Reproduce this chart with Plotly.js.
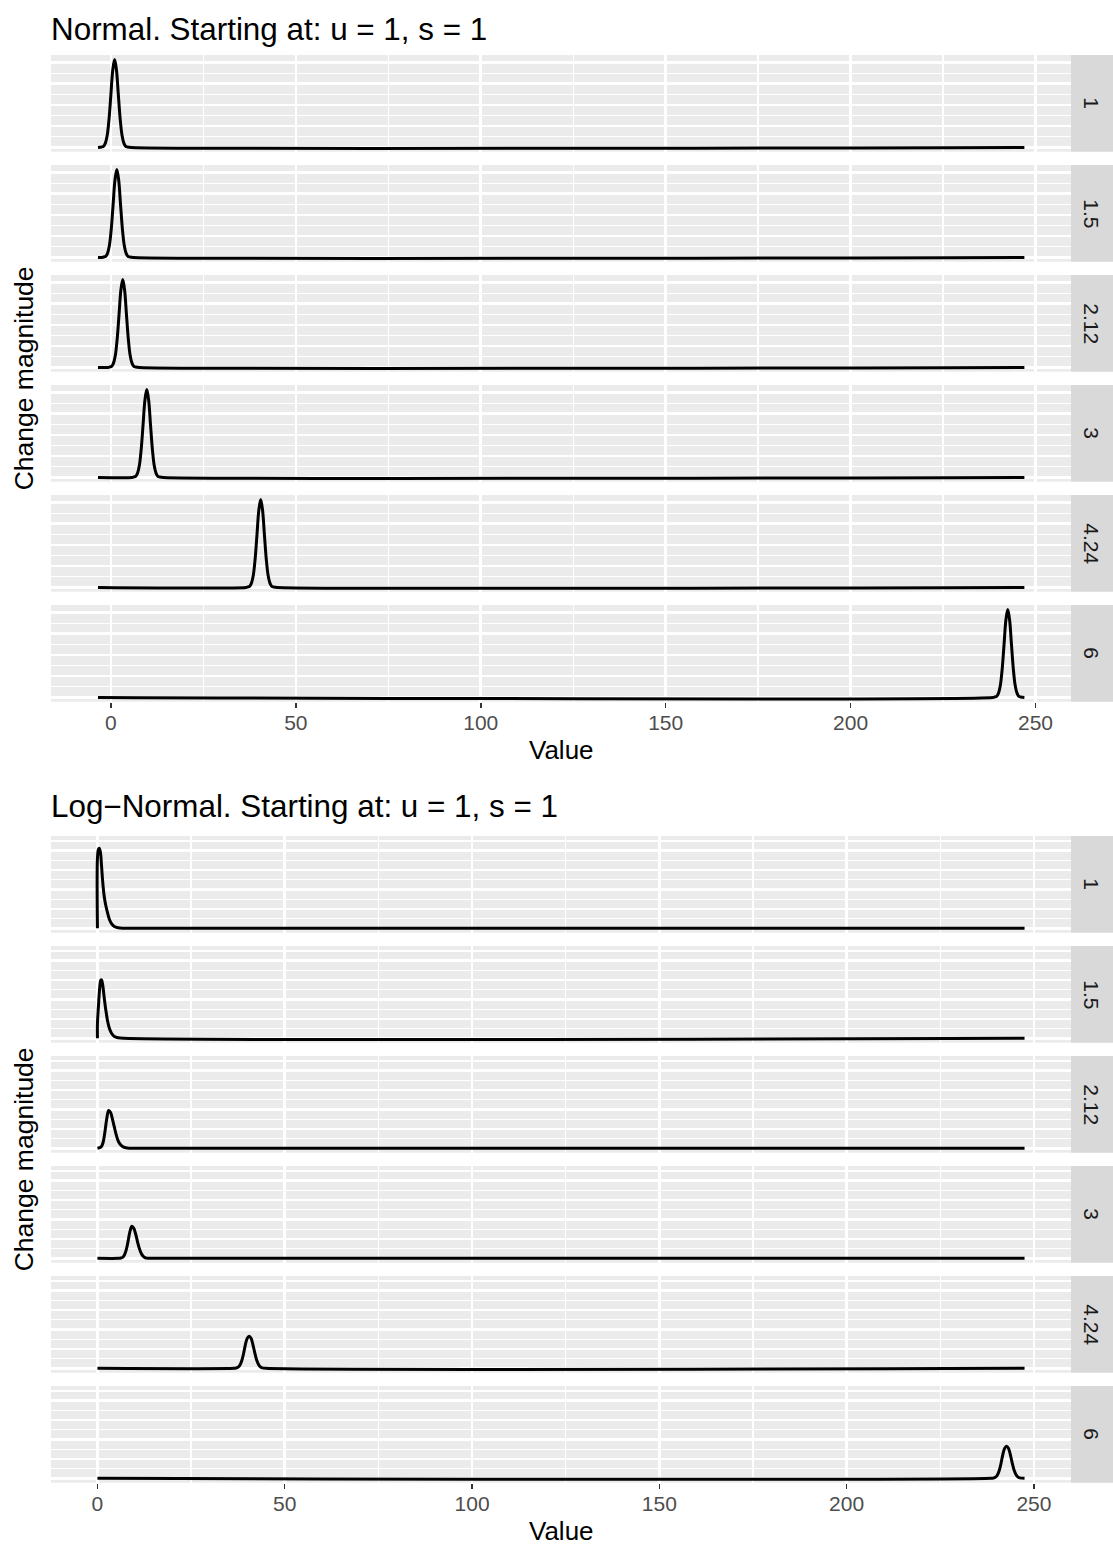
<!DOCTYPE html>
<html>
<head>
<meta charset="utf-8">
<script src="https://cdn.plot.ly/plotly-3.0.1.min.js"></script>
<style>html,body{margin:0;padding:0;background:#fff;}#chart{width:1113px;height:1551px;}</style>
</head>
<body>
<div id="chart"></div>
<script>
// ---------- DATA ----------
const facetLevels = ['1', '1.5', '2.12', '3', '4.24', '6'];
const xTickVals = [0, 50, 100, 150, 200, 250];
const xTickText = ['0', '50', '100', '150', '200', '250'];

const titleNormal = 'Normal. Starting at: u = 1, s = 1';
const titleLogNormal = 'Log\u2212Normal. Starting at: u = 1, s = 1';
const xTitle = 'Value';
const yTitle = 'Change magnitude';

// Normal density outlines (one array per facet)
const normalX = [
  [-3.5, -2.5, -2, -1.5, -1, -0.5, 0, 0.5, 1, 1.5, 2, 2.5, 3, 3.5, 4, 4.5, 5.5, 247],
  [-3.5, -2.4, -1.9, -1.4, -0.9, -0.4, 0.1, 0.6, 1.1, 1.6, 2.1, 2.6, 3.1, 3.6, 4.1, 4.6, 5.1, 6.1, 247],
  [-3.5, -0.8, -0.3, 0.2, 0.7, 1.2, 1.7, 2.2, 2.7, 3.2, 3.7, 4.2, 4.7, 5.2, 5.7, 6.2, 6.7, 7.7, 247],
  [-3.5, 5.7, 6.2, 6.7, 7.2, 7.7, 8.2, 8.7, 9.2, 9.7, 10.2, 10.7, 11.2, 11.7, 12.2, 12.7, 13.2, 14.2, 247],
  [-3.5, 36.5, 37, 37.5, 38, 38.5, 39, 39.5, 40, 40.5, 41, 41.5, 42, 42.5, 43, 43.5, 44, 45, 247],
  [-3.5, 238.5, 239, 239.5, 240, 240.5, 241, 241.5, 242, 242.5, 243, 243.5, 244, 244.5, 245, 245.5, 246, 247]
];
const normalY = [
  [0, 0.002, 0.005, 0.02, 0.057, 0.135, 0.25, 0.365, 0.414, 0.365, 0.25, 0.135, 0.057, 0.02, 0.005, 0.002, 0, 0],
  [0, 0, 0.002, 0.005, 0.02, 0.057, 0.135, 0.25, 0.365, 0.414, 0.365, 0.25, 0.135, 0.057, 0.02, 0.005, 0.002, 0, 0],
  [0, 0, 0.002, 0.005, 0.02, 0.057, 0.135, 0.25, 0.365, 0.414, 0.365, 0.25, 0.135, 0.057, 0.02, 0.005, 0.002, 0, 0],
  [0, 0, 0.002, 0.005, 0.02, 0.057, 0.135, 0.25, 0.365, 0.414, 0.365, 0.25, 0.135, 0.057, 0.02, 0.005, 0.002, 0, 0],
  [0, 0, 0.002, 0.005, 0.02, 0.057, 0.135, 0.25, 0.365, 0.414, 0.365, 0.25, 0.135, 0.057, 0.02, 0.005, 0.002, 0, 0],
  [0, 0, 0.002, 0.005, 0.02, 0.057, 0.135, 0.25, 0.365, 0.414, 0.365, 0.25, 0.135, 0.057, 0.02, 0.005, 0.002, 0]
];

// Log-normal density outlines (one array per facet)
const logNormalX = [
  [0, 0, 0.25, 0.5, 0.8, 1.1, 1.4, 1.8, 2.2, 2.7, 3.2, 3.8, 4.5, 5.5, 7, 247.5],
  [0, 0, 0.3, 0.6, 0.9, 1.1, 1.4, 1.8, 2.2, 2.7, 3.2, 3.8, 4.5, 5.5, 7, 247.5],
  [0, 1, 1.5, 2, 2.5, 3, 3.5, 4, 4.5, 5, 5.5, 6, 7, 8, 9, 247.5],
  [0, 5.7, 6.2, 6.7, 7.2, 7.7, 8.2, 8.7, 9.2, 9.7, 10.2, 10.7, 11.2, 11.7, 12.2, 12.7, 13.2, 14.2, 247.5],
  [0, 36.5, 37, 37.5, 38, 38.5, 39, 39.5, 40, 40.5, 41, 41.5, 42, 42.5, 43, 43.5, 44, 45, 247.5],
  [0, 238.7, 239.2, 239.7, 240.2, 240.7, 241.2, 241.7, 242.2, 242.7, 243.2, 243.7, 244.2, 244.7, 245.2, 245.7, 246.2, 247.5]
];
const logNormalY = [
  [0, 0.72, 0.81, 0.825, 0.78, 0.64, 0.48, 0.33, 0.24, 0.16, 0.09, 0.045, 0.018, 0.005, 0, 0],
  [0, 0.15, 0.35, 0.52, 0.6, 0.6, 0.55, 0.42, 0.3, 0.18, 0.1, 0.05, 0.02, 0.006, 0, 0],
  [0, 0.015, 0.06, 0.17, 0.31, 0.39, 0.37, 0.3, 0.22, 0.14, 0.08, 0.045, 0.012, 0.003, 0, 0],
  [0, 0, 0.003, 0.01, 0.035, 0.09, 0.18, 0.28, 0.33, 0.31, 0.25, 0.17, 0.1, 0.05, 0.022, 0.008, 0.002, 0, 0],
  [0, 0, 0.003, 0.01, 0.03, 0.075, 0.15, 0.245, 0.31, 0.33, 0.31, 0.245, 0.16, 0.085, 0.04, 0.015, 0.005, 0, 0],
  [0, 0, 0.003, 0.01, 0.03, 0.075, 0.15, 0.245, 0.31, 0.33, 0.31, 0.245, 0.16, 0.085, 0.04, 0.015, 0.005, 0]
];

// ---------- LAYOUT ----------
const W = 1113, H = 1551;
const FONT = 'Liberation Sans, Arial, Helvetica, sans-serif';
const panelLeft = 51, panelRight = 1071;
const panelH = 96.7, panelStep = 110;
const topStart = 55, bottomStart = 836;

const px = v => v / W;
const py = v => 1 - v / H;

const layout = {
  width: W, height: H,
  margin: {l: 0, r: 0, t: 0, b: 0, pad: 0},
  paper_bgcolor: '#FFFFFF',
  plot_bgcolor: '#EBEBEB',
  showlegend: false,
  font: {family: FONT, color: '#000000'},
  shapes: [],
  annotations: []
};

function xAxisDef(anchor, range) {
  return {
    domain: [px(panelLeft), px(panelRight)],
    anchor: anchor,
    range: range,
    tickmode: 'array',
    tickvals: xTickVals,
    ticktext: xTickText,
    ticks: 'outside', ticklen: 5.5, tickwidth: 1.5, tickcolor: '#333333',
    ticklabelstandoff: -3,
    tickfont: {family: FONT, size: 21, color: '#4D4D4D'},
    showgrid: true, gridcolor: '#FFFFFF', gridwidth: 2.6,
    minor: {tickmode: 'linear', tick0: 0, dtick: 25, showgrid: true, gridcolor: '#FFFFFF', gridwidth: 1.3, ticks: ''},
    zeroline: false, showline: false, fixedrange: true
  };
}
layout.xaxis = xAxisDef('y6', [-16.2, 259.6]);
layout.xaxis2 = xAxisDef('y12', [-12.4, 259.9]);

const traces = [];
function addPlot(startY, xs, ys, xName, axisOffset, yRange, major, minor) {
  for (let i = 0; i < 6; i++) {
    const n = axisOffset + i + 1;
    const key = n === 1 ? 'yaxis' : 'yaxis' + n;
    const ref = n === 1 ? 'y' : 'y' + n;
    const top = startY + i * panelStep;
    const bot = top + panelH;
    layout[key] = {
      domain: [py(bot), py(top)],
      anchor: xName,
      range: yRange,
      tickmode: 'linear', tick0: 0, dtick: major,
      showticklabels: false, ticks: '',
      showgrid: true, gridcolor: '#FFFFFF', gridwidth: 2.6,
      minor: {tickmode: 'linear', tick0: minor, dtick: major, showgrid: true, gridcolor: '#FFFFFF', gridwidth: 1.3, ticks: ''},
      zeroline: false, showline: false, fixedrange: true
    };
    traces.push({
      type: 'scatter', mode: 'lines',
      x: xs[i], y: ys[i],
      xaxis: xName, yaxis: ref,
      line: {color: '#000000', width: 3, shape: 'spline', smoothing: 1},
      hoverinfo: 'skip', showlegend: false
    });
    // strip
    layout.shapes.push({
      type: 'rect', xref: 'paper', yref: 'paper',
      x0: px(panelRight), x1: 1, y0: py(bot), y1: py(top),
      fillcolor: '#D9D9D9', line: {width: 0}, layer: 'below'
    });
    layout.annotations.push({
      xref: 'paper', yref: 'paper',
      x: px((panelRight + W) / 2), y: py((top + bot) / 2),
      text: facetLevels[i], showarrow: false, textangle: 90,
      xanchor: 'center', yanchor: 'middle',
      font: {family: FONT, size: 21, color: '#1A1A1A'}
    });
  }
  const firstTop = startY, lastBot = startY + 5 * panelStep + panelH;
  // y title
  layout.annotations.push({
    xref: 'paper', yref: 'paper',
    x: px(24), y: py((firstTop + lastBot) / 2),
    text: yTitle, showarrow: false, textangle: -90,
    xanchor: 'center', yanchor: 'middle',
    font: {family: FONT, size: 26.5, color: '#000000'}
  });
  // x title
  layout.annotations.push({
    xref: 'paper', yref: 'paper',
    x: px((panelLeft + panelRight) / 2), y: py(lastBot + 48),
    text: xTitle, showarrow: false,
    xanchor: 'center', yanchor: 'middle',
    font: {family: FONT, size: 26, color: '#000000'}
  });
}

addPlot(topStart, normalX, normalY, 'x', 0, [-0.0203, 0.4358], 0.1, 0.05);
addPlot(bottomStart, logNormalX, logNormalY, 'x2', 6, [-0.045, 0.95], 0.2, 0.1);

layout.annotations.push({
  xref: 'paper', yref: 'paper', x: px(49), y: py(29),
  text: titleNormal, showarrow: false, xanchor: 'left', yanchor: 'middle',
  font: {family: FONT, size: 31.4, color: '#000000'}
});
layout.annotations.push({
  xref: 'paper', yref: 'paper', x: px(49), y: py(807),
  text: titleLogNormal, showarrow: false, xanchor: 'left', yanchor: 'middle',
  font: {family: FONT, size: 31.4, color: '#000000'}
});

Plotly.newPlot('chart', traces, layout, {staticPlot: true, displayModeBar: false});
</script>
</body>
</html>
